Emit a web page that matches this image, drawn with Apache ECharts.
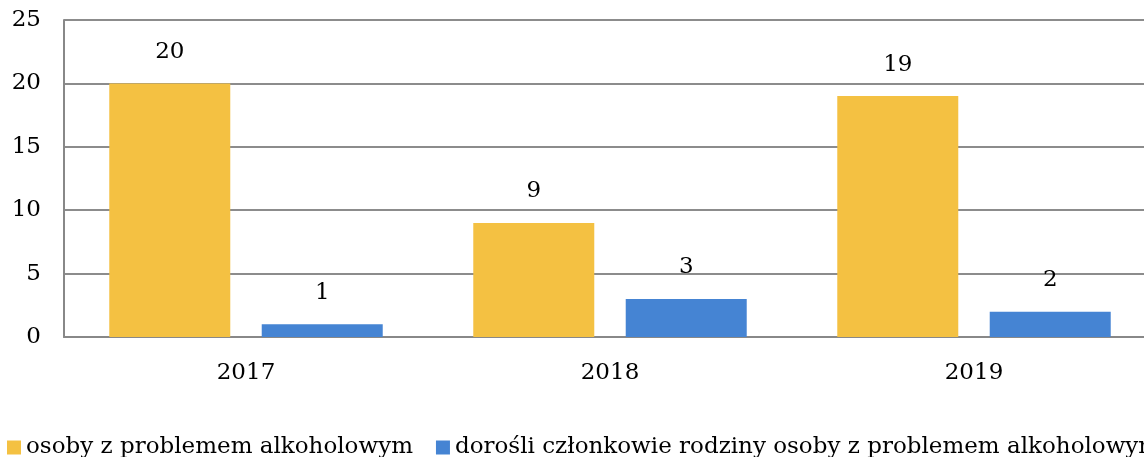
<!DOCTYPE html>
<html>
<head>
<meta charset="utf-8">
<script src="https://cdn.jsdelivr.net/npm/echarts@6/dist/echarts.min.js"></script>
<style>
  html, body { margin: 0; padding: 0; background: #fff; }
  #chart { width: 1144px; height: 457px; }
</style>
</head>
<body>
<div id="chart"></div>
<script>
var years = ['2017', '2018', '2019'];
var seriesNames = ['osoby z problemem alkoholowym', 'dorośli członkowie rodziny osoby z problemem alkoholowym'];
var drinkers = [20, 9, 19];
var familyMembers = [1, 3, 2];
var yTicks = { min: 0, max: 25, interval: 5 };

var font = 'DejaVu Serif';
var chart = echarts.init(document.getElementById('chart'));

var labelStyle = {
    show: true,
    position: 'top',
    distance: 20,
    color: '#000',
    fontFamily: font,
    fontSize: 23
};

chart.setOption({
    animation: false,
    textStyle: { fontFamily: font },
    grid: { left: 64, top: 20, width: 1092, height: 317, outerBoundsMode: 'none', containLabel: false },
    legend: {
        left: 7,
        bottom: -2,
        width: 1600,
        padding: 0,
        itemWidth: 14,
        itemHeight: 14,
        itemGap: 23,
        icon: 'rect',
        textStyle: { fontFamily: font, fontSize: 23, color: '#000' },
        data: seriesNames
    },
    xAxis: {
        type: 'category',
        data: years,
        axisLine: { lineStyle: { color: '#888', width: 2 } },
        axisTick: { show: false },
        axisLabel: { color: '#000', fontFamily: font, fontSize: 23, margin: 25 }
    },
    yAxis: {
        type: 'value',
        min: yTicks.min,
        max: yTicks.max,
        interval: yTicks.interval,
        axisLine: { show: true, lineStyle: { color: '#888', width: 2 } },
        axisTick: { show: false },
        splitLine: { lineStyle: { color: '#8c8c8c', width: 2 } },
        axisLabel: { color: '#000', fontFamily: font, fontSize: 23, margin: 23 }
    },
    series: [
        {
            name: seriesNames[0],
            type: 'bar',
            data: drinkers,
            barWidth: 121,
            barGap: '26%',
            itemStyle: { color: '#F4C142' },
            label: labelStyle
        },
        {
            name: seriesNames[1],
            type: 'bar',
            data: familyMembers,
            barWidth: 121,
            itemStyle: { color: '#4584D3' },
            label: labelStyle
        }
    ]
});
</script>
</body>
</html>
